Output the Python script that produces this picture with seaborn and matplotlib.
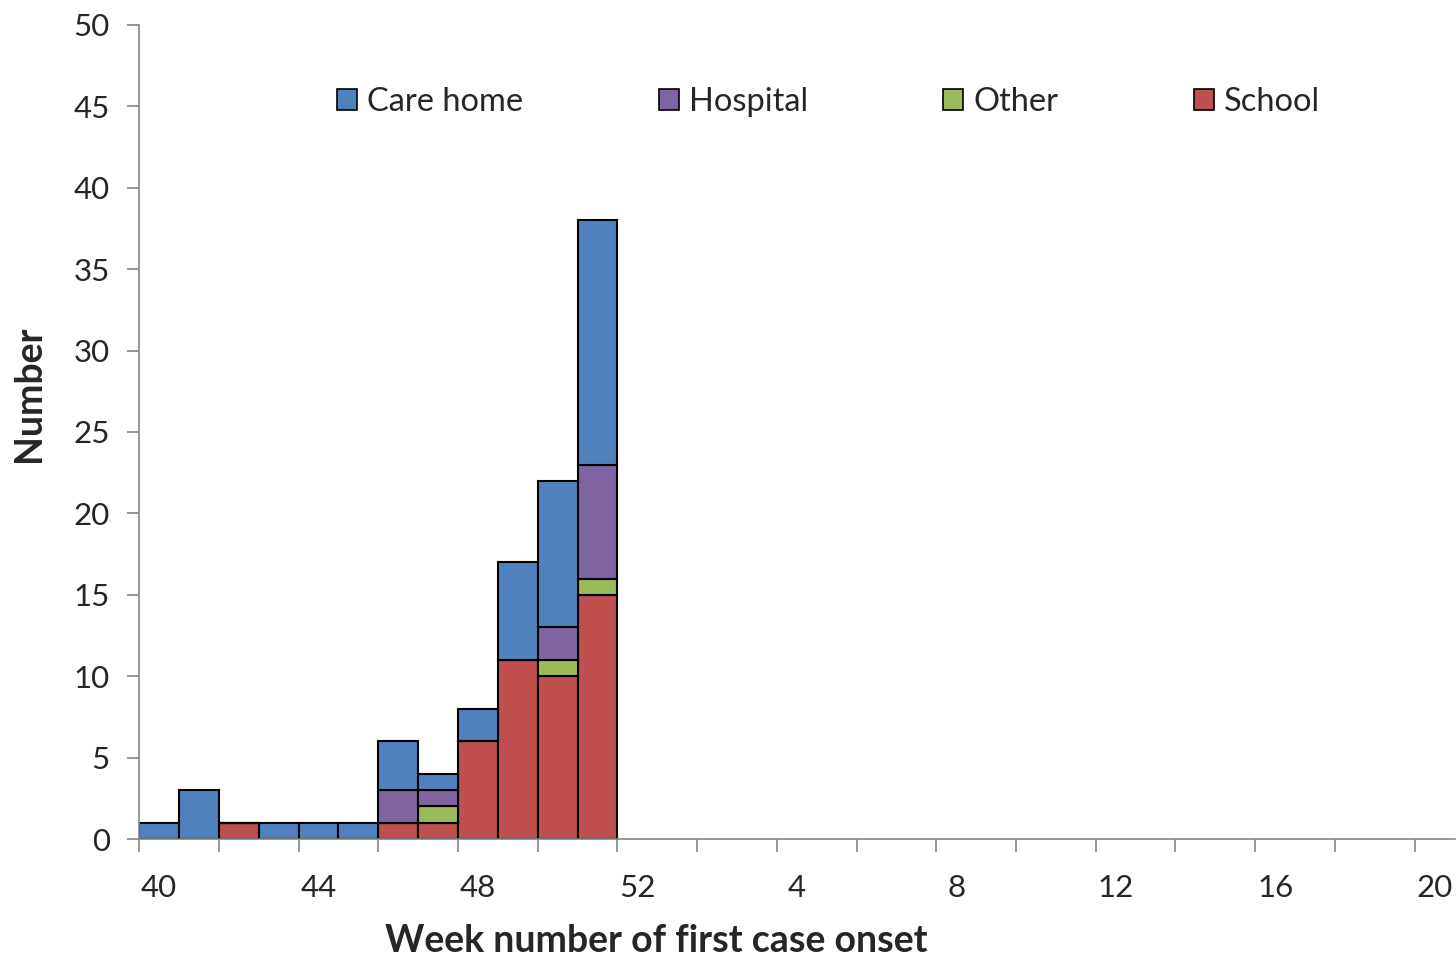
import pandas as pd
import matplotlib.pyplot as plt
import seaborn as sns
from matplotlib.patches import Patch

# Week of first case onset: 40-52 then 1-20 of the next year
weeks = list(range(40, 53)) + list(range(1, 21))

# Outbreak counts per week by setting (weeks with no outbreaks left out)
care_home = {40: 1, 41: 3, 43: 1, 44: 1, 45: 1, 46: 3, 47: 1, 48: 2, 49: 6, 50: 9, 51: 15}
hospital = {46: 2, 47: 1, 50: 2, 51: 7}
other = {47: 1, 50: 1, 51: 1}
school = {42: 1, 46: 1, 47: 1, 48: 6, 49: 11, 50: 10, 51: 15}

settings = ["Care home", "Hospital", "Other", "School"]
colors = {"Care home": "#4F81BD", "Hospital": "#8064A2", "Other": "#9BBB59", "School": "#C0504D"}

rows = []
for name, counts in zip(settings, [care_home, hospital, other, school]):
    for wk, n in counts.items():
        rows.append({"pos": weeks.index(wk), "setting": name, "n": n})
df = pd.DataFrame(rows)

sns.set_style("white")
plt.rcParams["font.family"] = ["Lato", "DejaVu Sans"]

fig = plt.figure(figsize=(14.56, 9.57), dpi=100)
ax = fig.add_axes([0.0955, 0.1233, 0.9035, 0.8506])

sns.histplot(data=df, x="pos", weights="n", hue="setting", hue_order=settings,
             multiple="stack", discrete=True, shrink=1, palette=colors,
             alpha=1, edgecolor="black", linewidth=1.5, legend=False, ax=ax)

ax.set_xlim(-0.5, len(weeks) - 0.5)
ax.set_ylim(0, 50)
ax.set_yticks(range(0, 51, 5))

# labels every 4 weeks at bar centres, tick marks every 2 weeks at bar edges
ax.set_xticks(range(0, len(weeks), 4))
ax.set_xticklabels([str(weeks[i]) for i in range(0, len(weeks), 4)])
ax.set_xticks([i - 0.5 for i in range(0, len(weeks), 2)], minor=True)
ax.tick_params(axis="x", which="major", bottom=True, length=0, pad=25, labelsize=22.5)
ax.tick_params(axis="x", which="minor", bottom=True, length=9, color="#868686", width=1.2, direction="out")
ax.tick_params(axis="y", left=True, length=9, color="#868686", width=1.2, direction="out", labelsize=22.5, pad=12)

for s in ["top", "right"]:
    ax.spines[s].set_visible(False)
for s in ["left", "bottom"]:
    ax.spines[s].set_color("#868686")
    ax.spines[s].set_linewidth(1.2)

ax.set_xlabel("Week number of first case onset", fontsize=27, fontweight="bold")
ax.set_ylabel("Number", fontsize=27, fontweight="bold")
ax.xaxis.set_label_coords(0.393, -0.105)
ax.yaxis.set_label_coords(-0.071, 0.547)

handles = [Patch(facecolor=colors[s], edgecolor="black", linewidth=1.2, label=s) for s in settings]
ax.legend(handles=handles, ncol=4, loc="center left", bbox_to_anchor=(0.1405, 0.905),
          frameon=False, fontsize=23.5, handlelength=0.62, handleheight=0.62,
          handletextpad=0.3, columnspacing=4.15, borderaxespad=0)

fig.savefig("out.png", dpi=100)
